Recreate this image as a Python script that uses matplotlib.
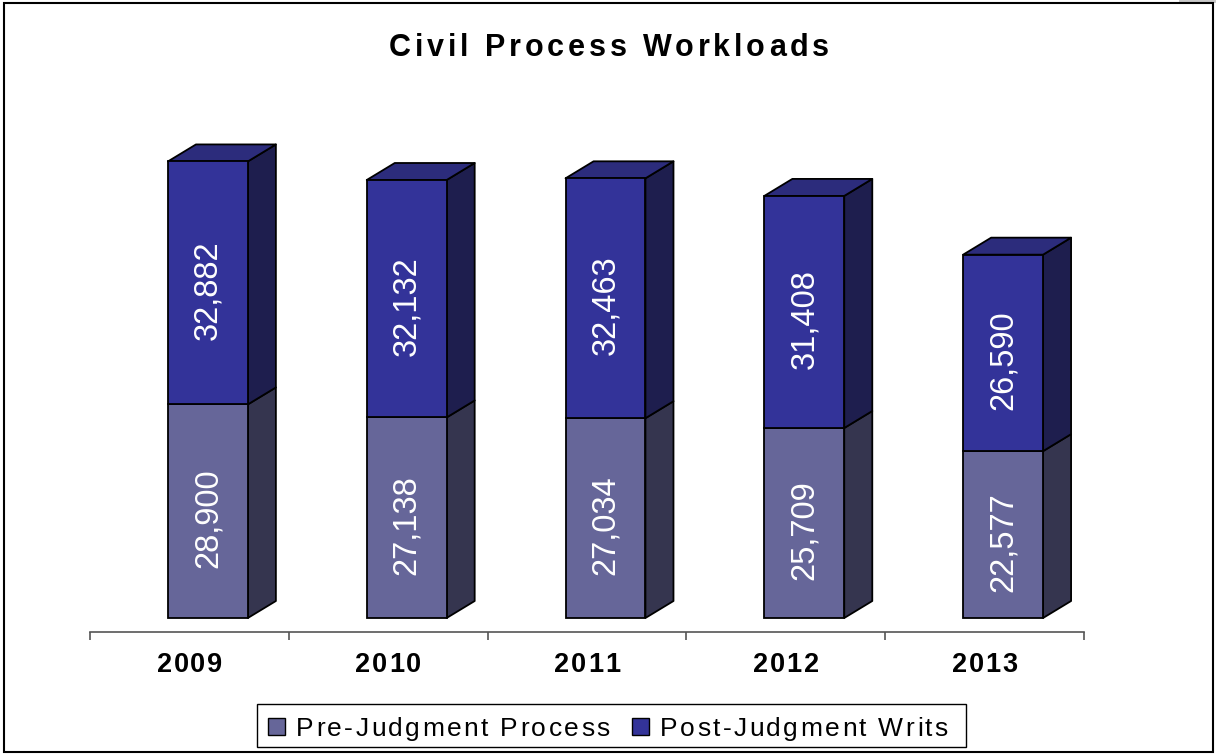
"""Stacked 3-D style column chart of civil process workloads by year."""
import matplotlib

matplotlib.use("Agg")
import matplotlib.pyplot as plt
from matplotlib.font_manager import FontProperties, findfont, get_font
from matplotlib.patches import Polygon, Rectangle
from matplotlib.transforms import IdentityTransform

years = ["2009", "2010", "2011", "2012", "2013"]
pre_judgment = [28900, 27138, 27034, 25709, 22577]
post_judgment = [32882, 32132, 32463, 31408, 26590]
series_names = ["Pre-Judgment Process", "Post-Judgment Writs"]

FONT = "Liberation Sans"
W, H, DPI = 1216, 755, 100

# face colours: front, side, top
PRE_COLORS = ("#666699", "#35354f", "#4a4a7a")
POST_COLORS = ("#333399", "#1e1e4e", "#2c2c7c")

BAR_W = 0.402      # front face width in category units
BAR_OFF = -0.108   # left edge of the front face relative to the category centre
DEPTH_X = 0.141    # depth projection, category units
DEPTH_Y = 2300     # depth projection, value units
EDGE_LW = 1.3


def spaced_text(fig, x, y, s, size, track, weight="normal", color="black", ha="center"):
    """Draw text at x (pixels) with extra letter spacing; y is the baseline from the top."""
    prop = FontProperties(family=FONT, size=size, weight=weight)
    font = get_font(findfont(prop))
    font.set_size(size, DPI)
    adv = [font.load_char(ord(c)).linearHoriAdvance / 65536 for c in s]
    total = sum(adv) + track * (len(s) - 1)
    pos = x - total / 2 if ha == "center" else x
    for ch, a in zip(s, adv):
        if ch != " ":
            fig.text(pos, H - y, ch, fontproperties=prop, color=color,
                     ha="left", va="baseline", transform=IdentityTransform())
        pos += a + track


def box(ax, left, bottom, height, colors, top_face):
    front, side, top = colors
    right = left + BAR_W
    ax.add_patch(Polygon([(right, bottom), (right + DEPTH_X, bottom + DEPTH_Y),
                          (right + DEPTH_X, bottom + height + DEPTH_Y), (right, bottom + height)],
                         closed=True, fc=side, ec="black", lw=EDGE_LW, joinstyle="round", zorder=2))
    if top_face:
        ax.add_patch(Polygon([(left, bottom + height), (left + DEPTH_X, bottom + height + DEPTH_Y),
                              (right + DEPTH_X, bottom + height + DEPTH_Y), (right, bottom + height)],
                             closed=True, fc=top, ec="black", lw=EDGE_LW, joinstyle="round", zorder=2))
    ax.bar(left, height, width=BAR_W, bottom=bottom, align="edge",
           color=front, edgecolor="black", linewidth=EDGE_LW, zorder=3)


fig = plt.figure(figsize=(W / DPI, H / DPI), dpi=DPI)
ax = fig.add_axes([90 / W, (H - 632) / H, 994 / W, 532 / H])
ax.set_xlim(-0.5, 4.5)
ax.set_ylim(-1894, 70095)
ax.patch.set_visible(False)

for i, (pre, post) in enumerate(zip(pre_judgment, post_judgment)):
    left = i + BAR_OFF
    box(ax, left, 0, pre, PRE_COLORS, top_face=False)
    box(ax, left, pre, post, POST_COLORS, top_face=True)
    xc = left + BAR_W / 2
    for bottom, val in ((0, pre), (pre, post)):
        ax.text(xc, bottom + val / 2 - 1000, f"{val:,}", rotation=90, ha="center", va="center",
                color="white", fontsize=23.5, family=FONT, zorder=4)

for side in ("top", "left", "right"):
    ax.spines[side].set_visible(False)
ax.spines["bottom"].set_color("#555555")
ax.spines["bottom"].set_linewidth(1.2)
ax.set_yticks([])
ax.set_xticks([i - 0.5 for i in range(len(years) + 1)])
ax.set_xticklabels([])
ax.tick_params(axis="x", length=6, width=1.2, color="#555555")

# category labels under the axis
for i, year in enumerate(years):
    px = ax.transData.transform((i, 0))[0]
    spaced_text(fig, px, 672, year, 19.5, 1.8, weight="bold")

spaced_text(fig, 609, 56, "Civil Process Workloads", 22, 3.8, weight="bold")

# legend
fig.add_artist(Rectangle((257 / W, 1 - 747 / H), 709 / W, 43 / H, transform=fig.transFigure,
                         fill=False, ec="black", lw=1.0))
legend_items = [(268, PRE_COLORS[0], 296), (632, POST_COLORS[0], 660)]
for (mx, col, tx), name in zip(legend_items, series_names):
    fig.add_artist(Rectangle((mx / W, 1 - 735 / H), 17 / W, 17 / H, transform=fig.transFigure,
                             fc=col, ec="black", lw=1.0))
    spaced_text(fig, tx, 736, name, 19, 2.4, ha="left")

# outer frame
fig.add_artist(Rectangle((1179 / W, 1 - 3 / H), 37 / W, 3 / H, transform=fig.transFigure,
                         fc="#c8c8c8", ec="none"))
fig.add_artist(Rectangle((4 / W, 1 - 752 / H), 1209 / W, 749 / H, transform=fig.transFigure,
                         fill=False, ec="black", lw=1.5))

fig.savefig("out.png", dpi=DPI)
plt.close(fig)
